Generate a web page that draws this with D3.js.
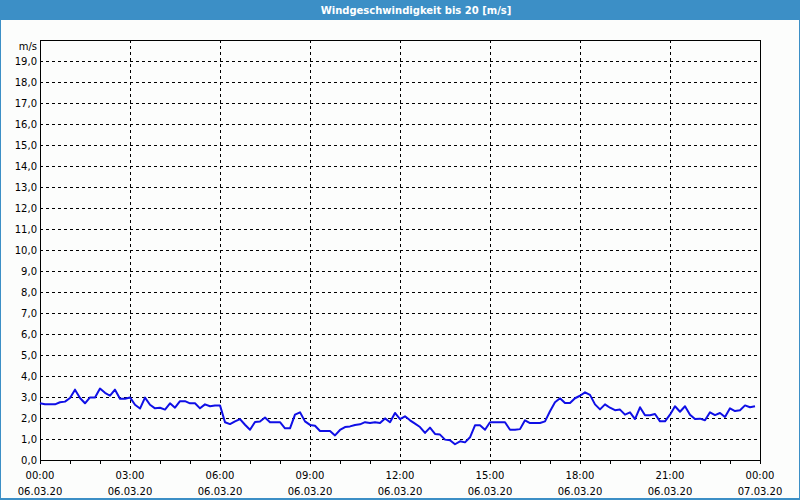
<!DOCTYPE html>
<html>
<head>
<meta charset="utf-8">
<script src="https://cdn.jsdelivr.net/npm/d3@7"></script>
<style>
  html, body { margin: 0; padding: 0; background: #fcfdfc; }
  svg { display: block; }
  text { font-family: "DejaVu Sans", Verdana, sans-serif; }
</style>
</head>
<body>
<svg id="chart" width="800" height="500"></svg>
<script>
// ---- data ----
const title = "Windgeschwindigkeit bis 20 [m/s]";
const unitLabel = "m/s";
const startTime = "2020-03-06T00:00:00";
const endTime = "2020-03-07T00:00:00";
const stepMinutes = 10;
const windSpeed = [
  2.70,2.65,2.65,2.65,2.75,2.78,2.95,3.35,2.95,2.70,
  2.98,2.98,3.40,3.20,3.06,3.35,2.92,2.92,2.98,2.63,
  2.45,2.97,2.63,2.46,2.49,2.40,2.70,2.49,2.80,2.80,
  2.70,2.70,2.46,2.65,2.56,2.60,2.60,1.80,1.71,1.84,
  1.95,1.68,1.44,1.81,1.83,2.02,1.80,1.80,1.80,1.51,
  1.51,2.16,2.27,1.84,1.67,1.63,1.38,1.38,1.38,1.17,
  1.43,1.57,1.60,1.67,1.70,1.80,1.76,1.80,1.76,1.98,
  1.80,2.24,1.95,2.08,1.89,1.73,1.57,1.29,1.54,1.24,
  1.21,0.97,0.94,0.75,0.89,0.84,1.08,1.65,1.65,1.44,
  1.80,1.80,1.80,1.80,1.44,1.44,1.47,1.89,1.76,1.76,
  1.76,1.84,2.32,2.75,2.94,2.71,2.71,2.94,3.06,3.22,
  3.10,2.65,2.41,2.65,2.49,2.37,2.40,2.16,2.27,1.95,
  2.51,2.13,2.13,2.19,1.84,1.84,2.16,2.56,2.30,2.56,
  2.16,1.95,1.97,1.89,2.27,2.14,2.24,2.05,2.46,2.33,
  2.37,2.60,2.51,2.56
];
const yTicks = [0,1,2,3,4,5,6,7,8,9,10,11,12,13,14,15,16,17,18,19];
const yMax = 20;
const majorTickHours = 3;

(function () {
// ---- layout ----
const W = 800, H = 500;
const pLeft = 40, pRight = 760, pTop = 40, pBottom = 460;
const blue = "#3c8fc6";

const svg = d3.select("#chart");

// frame and title bar
svg.append("rect").attr("x", 0).attr("y", 0).attr("width", W).attr("height", H).attr("fill", "#fcfdfc");
svg.append("rect").attr("x", 0).attr("y", 0).attr("width", W).attr("height", 20).attr("fill", blue);
svg.append("rect").attr("x", 0.5).attr("y", 0.5).attr("width", W - 1).attr("height", H - 1)
  .attr("fill", "none").attr("stroke", blue).attr("stroke-width", 1);
svg.append("line").attr("x1", 0).attr("x2", W).attr("y1", 498.5).attr("y2", 498.5)
  .attr("stroke", blue).attr("stroke-width", 1);
svg.append("text").attr("x", 416).attr("y", 14).attr("text-anchor", "middle")
  .attr("fill", "#ffffff").attr("font-size", "10px").attr("font-weight", "bold")
  .text(title);

const parse = d3.isoParse;
const t0 = parse(startTime), t1 = parse(endTime);
const x = d3.scaleTime().domain([t0, t1]).range([pLeft, pRight]);
const y = d3.scaleLinear().domain([0, yMax]).range([pBottom, pTop]);

const data = windSpeed.map((v, i) => ({ t: new Date(t0.getTime() + i * stepMinutes * 60000), v }));

// horizontal grid
svg.append("g").selectAll("line").data(yTicks.filter(d => d > 0)).join("line")
  .attr("x1", pLeft).attr("x2", pRight)
  .attr("y1", d => Math.round(y(d)) + 0.5).attr("y2", d => Math.round(y(d)) + 0.5)
  .attr("stroke", "#000").attr("stroke-width", 1).attr("stroke-dasharray", "3,3")
  .attr("shape-rendering", "crispEdges");

// vertical grid
const majorTicks = d3.timeHour.every(majorTickHours).range(t0, t1);
svg.append("g").selectAll("line").data(majorTicks.filter(d => +d > +t0)).join("line")
  .attr("x1", d => Math.round(x(d)) + 0.5).attr("x2", d => Math.round(x(d)) + 0.5)
  .attr("y1", pTop).attr("y2", pBottom + 4)
  .attr("stroke", "#000").attr("stroke-width", 1).attr("stroke-dasharray", "3,3")
  .attr("shape-rendering", "crispEdges");

// x axis with minor (hour) ticks
const xAxis = d3.axisBottom(x).ticks(d3.timeHour.every(1)).tickSize(4).tickFormat("");
const gx = svg.append("g").attr("transform", `translate(0,${pBottom})`).call(xAxis);
gx.select(".domain").remove();
gx.selectAll("line").attr("stroke", "#000").attr("shape-rendering", "crispEdges");

// x labels (two lines)
const fmtTime = d3.timeFormat("%H:%M"), fmtDate = d3.timeFormat("%d.%m.%y");
const labelTicks = d3.timeHour.every(majorTickHours).range(t0, d3.timeMinute.offset(t1, 1));
const xl = svg.append("g").selectAll("g").data(labelTicks).join("g")
  .attr("transform", d => `translate(${x(d)},0)`);
xl.append("text").attr("y", 479).attr("text-anchor", "middle").attr("font-size", "10px")
  .attr("fill", "#000").text(d => fmtTime(d));
xl.append("text").attr("y", 495).attr("text-anchor", "middle").attr("font-size", "10px")
  .attr("fill", "#000").text(d => fmtDate(d));

// y labels
const fmtY = v => d3.format(".1f")(v).replace(".", ",");
svg.append("g").selectAll("text").data(yTicks).join("text")
  .attr("x", 37).attr("y", d => y(d) + 4).attr("text-anchor", "end")
  .attr("font-size", "10px").attr("fill", "#000").text(d => fmtY(d));
svg.append("text").attr("x", 37).attr("y", 50).attr("text-anchor", "end")
  .attr("font-size", "10px").attr("fill", "#000").text(unitLabel);

// plot border
svg.append("rect").attr("x", pLeft + 0.5).attr("y", pTop + 0.5)
  .attr("width", pRight - pLeft).attr("height", pBottom - pTop)
  .attr("fill", "none").attr("stroke", "#000").attr("stroke-width", 1)
  .attr("shape-rendering", "crispEdges");

// line
const line = d3.line().x(d => x(d.t)).y(d => y(d.v));
svg.append("path").datum(data).attr("d", line)
  .attr("fill", "none").attr("stroke", "#0f0fe6").attr("stroke-width", 2)
  .attr("stroke-linejoin", "round");
})();
</script>
</body>
</html>
